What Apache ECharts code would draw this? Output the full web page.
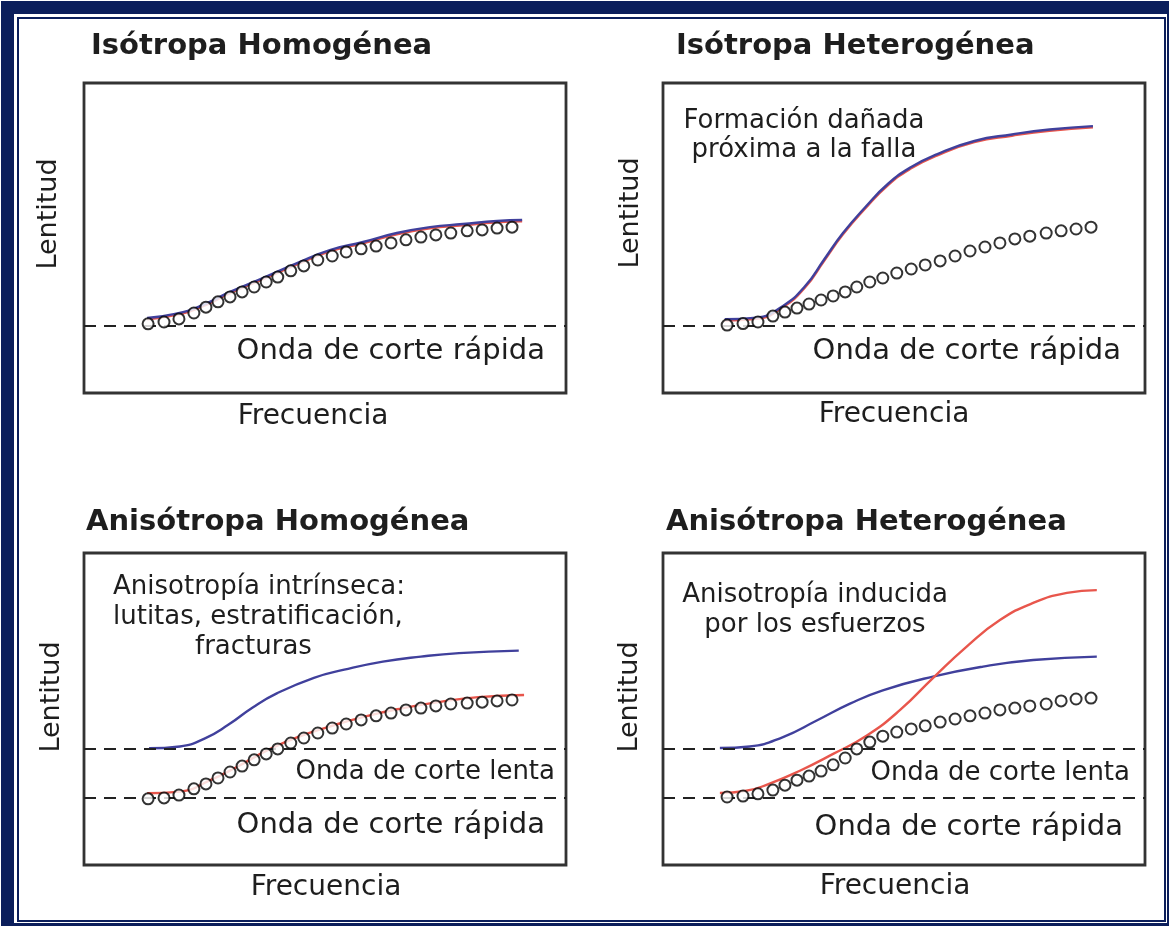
<!DOCTYPE html>
<html>
<head>
<meta charset="utf-8">
<title>Lentitud vs Frecuencia</title>
<script src="https://cdn.jsdelivr.net/npm/echarts@6/dist/echarts.min.js"></script>
<style>
  html, body { margin: 0; padding: 0; background: #fff; }
  #main { width: 1169px; height: 926px; }
</style>
</head>
<body>
<div id="main"></div>
<script>
// frecuencias de las mediciones (circulos), comunes a los cuatro paneles
var freq = [13.3, 16.6, 19.7, 22.8, 25.3, 27.8, 30.3, 32.8, 35.3, 37.8, 40.2, 42.9, 45.6, 48.5,
            51.5, 54.4, 57.5, 60.6, 63.7, 66.8, 69.9, 73.0, 76.1, 79.5, 82.6, 85.7, 88.8];

// niveles de las ondas de corte
var fastLevel = 21.6;
var slowLevel = 37.3;

// Isotropa Homogenea
var ihX    = [13.1, 18.9, 24.1, 30.3, 37.1, 44.2, 51.0, 57.9, 64.9, 71.8, 78.6, 85.7, 90.9];
var ihBlue = [24.2, 25.5, 28.0, 32.6, 37.1, 41.9, 46.1, 48.7, 51.6, 53.5, 54.5, 55.5, 55.8];
var ihRed  = [23.8, 25.1, 27.6, 32.2, 36.7, 41.5, 45.7, 48.3, 51.2, 53.1, 54.1, 55.1, 55.4];
var ihDots = [22.3, 22.9, 23.9, 25.8, 27.7, 29.4, 31.0, 32.6, 34.2, 35.8, 37.4, 39.4, 41.0, 42.9,
              44.2, 45.5, 46.5, 47.4, 48.4, 49.4, 50.3, 51.0, 51.6, 52.3, 52.6, 53.2, 53.5];

// Isotropa Heterogenea
var iheX    = [12.8, 19.4, 24.9, 29.5, 33.4, 37.3, 42.0, 46.7, 51.4, 56.8, 64.6, 72.4, 80.2, 89.2];
var iheBlue = [23.8, 24.3, 28.1, 34.5, 43.0, 51.5, 60.0, 67.5, 72.8, 77.0, 81.3, 83.4, 85.0, 86.1];
var iheRed  = [23.4, 23.9, 27.7, 34.1, 42.6, 51.1, 59.6, 67.1, 72.4, 76.6, 80.9, 83.0, 84.6, 85.7];
var iheDots = [21.9, 22.4, 22.9, 24.8, 26.1, 27.4, 28.7, 30.0, 31.3, 32.6, 34.2, 35.8, 37.1, 38.7,
               40.0, 41.3, 42.6, 44.2, 45.8, 47.1, 48.4, 49.7, 50.6, 51.6, 52.3, 52.9, 53.5];

// Anisotropa Homogenea
var ahBlueX = [13.5, 19.9, 25.0, 30.0, 35.0, 40.0, 47.7, 54.0, 62.0, 69.9, 77.8, 90.2];
var ahBlue  = [37.4, 38.0, 40.5, 45.0, 50.5, 55.0, 60.0, 62.6, 65.2, 66.8, 67.9, 68.7];
var ahRedX  = [13.1, 19.9, 26.2, 31.8, 38.2, 44.5, 50.8, 58.0, 65.9, 73.9, 81.8, 91.3];
var ahRed   = [23.0, 23.5, 27.2, 31.5, 36.9, 41.1, 44.3, 47.5, 50.2, 52.3, 53.8, 54.5];
var ahDots  = [21.2, 21.5, 22.4, 24.4, 26.0, 27.9, 29.8, 31.7, 33.7, 35.6, 37.2, 39.1, 40.7, 42.3,
               43.9, 45.2, 46.5, 47.8, 48.7, 49.7, 50.3, 51.0, 51.6, 51.9, 52.2, 52.6, 52.9];

// Anisotropa Heterogenea
var aheBlueX = [11.8, 18.0, 24.9, 31.9, 38.8, 45.6, 56.0, 66.4, 76.8, 90.0];
var aheBlue  = [37.5, 38.0, 41.0, 46.3, 51.7, 56.0, 60.4, 63.6, 65.7, 66.8];
var aheRedX  = [11.8, 17.0, 22.0, 28.4, 35.3, 42.3, 49.2, 56.0, 63.0, 69.9, 76.8, 83.8, 90.0];
var aheRed   = [23.1, 23.7, 26.0, 30.2, 35.6, 41.5, 49.7, 59.9, 70.0, 78.5, 84.0, 87.2, 88.1];
var aheDots  = [21.8, 22.1, 22.8, 24.0, 25.6, 27.2, 28.5, 30.1, 32.1, 34.3, 37.2, 39.4, 41.3, 42.6,
                43.6, 44.6, 45.8, 46.8, 47.8, 48.7, 49.7, 50.3, 51.0, 51.6, 52.6, 53.2, 53.5];

var BLUE = '#40409c';
var RED = '#e8564c';
var NAVY = '#0b1e5b';
var FONT = '"DejaVu Sans", Verdana, sans-serif';

function pairs(xs, ys) {
    return xs.map(function (x, i) { return [x, ys[i]]; });
}

function curve(idx, xs, ys, color, z) {
    return {
        type: 'line', xAxisIndex: idx, yAxisIndex: idx,
        data: pairs(xs, ys), smooth: 0.5,
        symbol: 'none', z: z,
        lineStyle: { color: color, width: 2.4 }
    };
}

function dots(idx, ys, levels) {
    return {
        type: 'scatter', xAxisIndex: idx, yAxisIndex: idx,
        data: pairs(freq, ys), symbol: 'emptyCircle', symbolSize: 11, z: 5,
        itemStyle: { color: '#000', borderWidth: 2.6 },
        markLine: {
            silent: true, symbol: 'none', label: { show: false },
            lineStyle: { color: '#222', width: 2.2, type: [12, 8] },
            data: levels.map(function (v) { return { yAxis: v }; })
        }
    };
}

function txt(x, y, s, size, align, bold, rot) {
    return {
        type: 'text', x: x, y: y, rotation: rot || 0, z: 10,
        style: {
            text: s, fill: '#1e1e1e', textAlign: align || 'left', textVerticalAlign: 'middle',
            font: (bold ? 'bold ' : '') + size + 'px ' + FONT
        }
    };
}

var grids = [
    { left: 84, top: 83, width: 482, height: 310 },
    { left: 663, top: 83, width: 482, height: 310 },
    { left: 84, top: 553, width: 482, height: 312 },
    { left: 663, top: 553, width: 482, height: 312 }
];

var myChart = echarts.init(document.getElementById('main'));
var option = {
    animation: false,
    backgroundColor: '#fff',
    grid: grids.map(function (g) {
        return Object.assign({ show: true, borderColor: '#333', borderWidth: 2.8, backgroundColor: 'transparent' }, g);
    }),
    xAxis: grids.map(function (g, i) {
        return { type: 'value', gridIndex: i, min: 0, max: 100, show: false };
    }),
    yAxis: grids.map(function (g, i) {
        return { type: 'value', gridIndex: i, min: 0, max: 100, show: false };
    }),
    series: [
        curve(0, ihX, ihRed, RED, 3), curve(0, ihX, ihBlue, BLUE, 4), dots(0, ihDots, [fastLevel]),
        curve(1, iheX, iheRed, RED, 3), curve(1, iheX, iheBlue, BLUE, 4), dots(1, iheDots, [fastLevel]),
        curve(2, ahBlueX, ahBlue, BLUE, 3), curve(2, ahRedX, ahRed, RED, 4), dots(2, ahDots, [fastLevel, slowLevel]),
        curve(3, aheBlueX, aheBlue, BLUE, 3), curve(3, aheRedX, aheRed, RED, 4), dots(3, aheDots, [fastLevel, slowLevel])
    ],
    graphic: [
        // marco azul
        { type: 'rect', shape: { x: 1, y: 1, width: 1168, height: 13 }, style: { fill: NAVY } },
        { type: 'rect', shape: { x: 1, y: 1, width: 13, height: 925 }, style: { fill: NAVY } },
        { type: 'rect', shape: { x: 1167, y: 1, width: 2, height: 925 }, style: { fill: NAVY } },
        { type: 'rect', shape: { x: 1, y: 923, width: 1168, height: 3 }, style: { fill: NAVY } },
        { type: 'rect', shape: { x: 18, y: 18, width: 1147, height: 903 }, style: { fill: 'none', stroke: NAVY, lineWidth: 2 } },

        // Isotropa Homogenea
        txt(91, 46, 'Isótropa Homogénea', 29, 'left', true),
        txt(48.5, 214, 'Lentitud', 27, 'center', false, Math.PI / 2),
        txt(313, 417, 'Frecuencia', 28, 'center'),
        txt(545, 351, 'Onda de corte rápida', 29, 'right'),

        // Isotropa Heterogenea
        txt(676, 46, 'Isótropa Heterogénea', 29, 'left', true),
        txt(631, 213, 'Lentitud', 27, 'center', false, Math.PI / 2),
        txt(894, 415, 'Frecuencia', 28, 'center'),
        txt(1121, 351, 'Onda de corte rápida', 29, 'right'),
        txt(804, 121, 'Formación dañada', 26, 'center'),
        txt(804, 150, 'próxima a la falla', 26, 'center'),

        // Anisotropa Homogenea
        txt(86, 522, 'Anisótropa Homogénea', 29, 'left', true),
        txt(51.5, 697, 'Lentitud', 27, 'center', false, Math.PI / 2),
        txt(326, 888, 'Frecuencia', 28, 'center'),
        txt(555, 772, 'Onda de corte lenta', 26, 'right'),
        txt(545, 825, 'Onda de corte rápida', 29, 'right'),
        txt(113, 587, 'Anisotropía intrínseca:', 26, 'left'),
        txt(113, 617, 'lutitas, estratificación,', 26, 'left'),
        txt(195, 647, 'fracturas', 26, 'left'),

        // Anisotropa Heterogenea
        txt(666, 522, 'Anisótropa Heterogénea', 29, 'left', true),
        txt(630, 697, 'Lentitud', 27, 'center', false, Math.PI / 2),
        txt(895, 887, 'Frecuencia', 28, 'center'),
        txt(1130, 773, 'Onda de corte lenta', 26, 'right'),
        txt(1123, 827, 'Onda de corte rápida', 29, 'right'),
        txt(815, 595, 'Anisotropía inducida', 26, 'center'),
        txt(815, 625, 'por los esfuerzos', 26, 'center')
    ]
};
myChart.setOption(option);
</script>
</body>
</html>
